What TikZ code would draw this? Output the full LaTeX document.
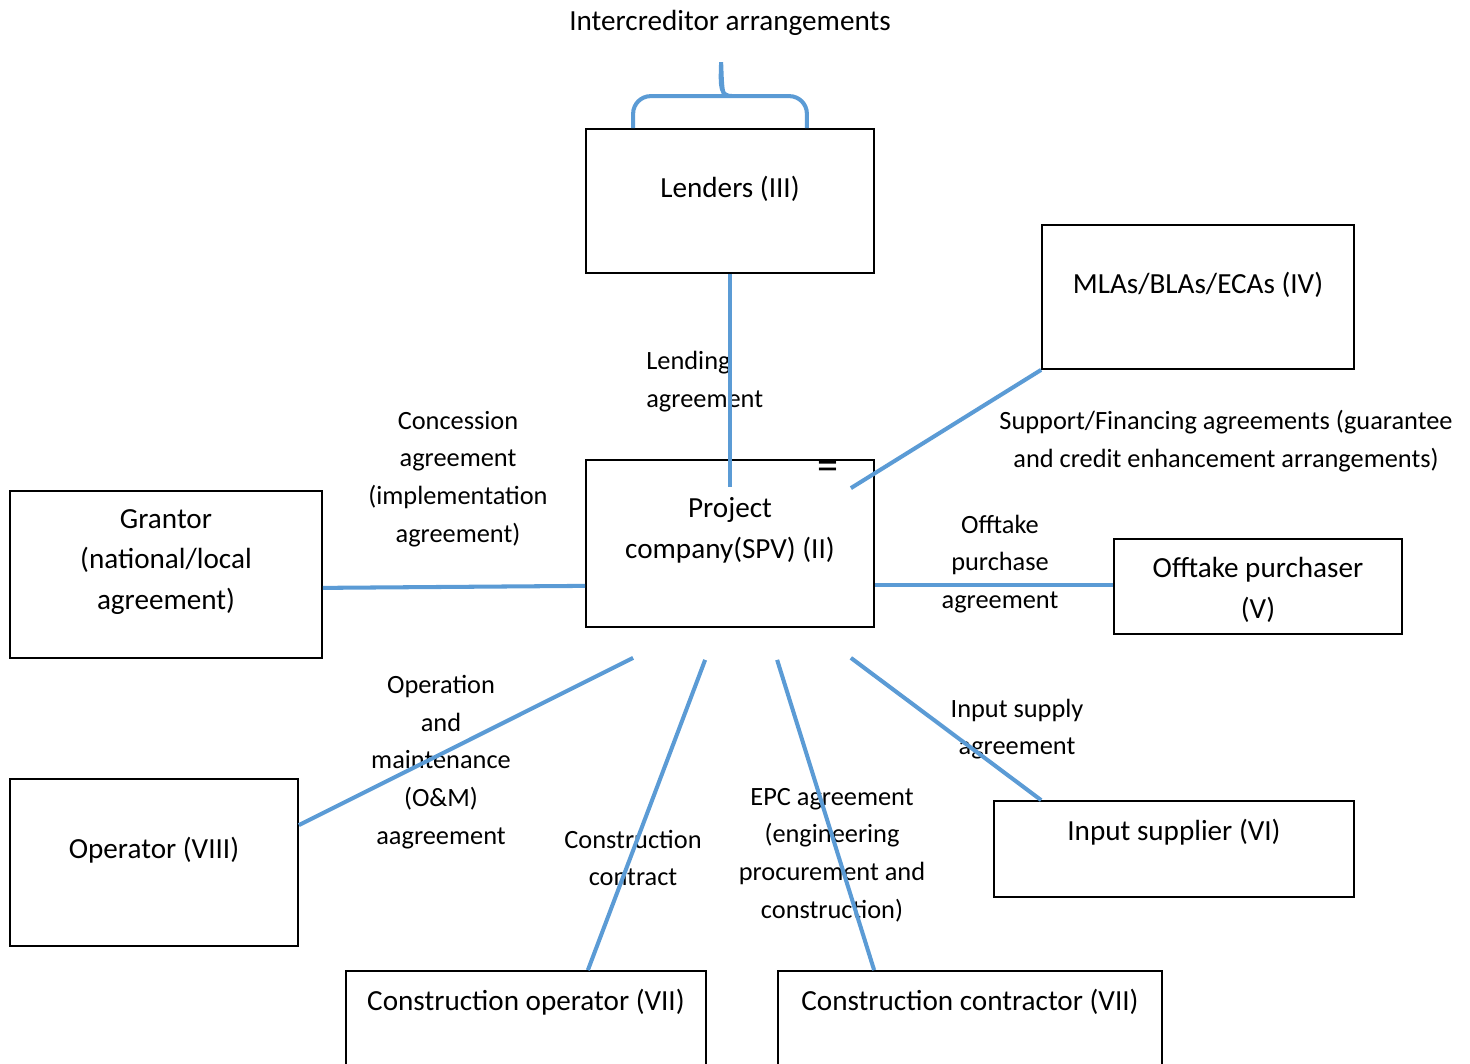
\documentclass[tikz,border=0pt]{standalone}
\usepackage{fontspec}
\setmainfont{Carlito}
\usetikzlibrary{positioning,calc,fit}

\definecolor{linkblue}{RGB}{91,155,213}

\begin{document}
\begin{tikzpicture}[
  x=0.02cm, y=-0.02cm,
  box/.style={draw, line width=1pt, inner sep=0pt},
  boxtext/.style={font=\fontsize{16.6}{23.2}\selectfont, align=center, inner sep=0pt},
  note/.style={font=\fontsize{15}{21.5}\selectfont, align=center, inner sep=0pt},
  link/.style={draw=linkblue, line width=2.3pt}
]
\clip (0,0) rectangle (1470,1064);

% --- Parties ---
\node[box, fit={(586,129) (874,273)}] (lenders) {};
\node[box, fit={(1042,225) (1354,369)}] (mla) {};
\node[box, fit={(586,460) (874,627)}] (spv) {};
\node[box, fit={(10,491) (322,658)}] (grantor) {};
\node[box, fit={(1114,539) (1402,634)}] (offtake) {};
\node[box, fit={(10,779) (298,946)}] (operator) {};
\node[box, fit={(994,801) (1354,897)}] (supplier) {};
\node[box, fit={(346,971) (706,1100)}] (conop) {};
\node[box, fit={(778,971) (1162,1100)}] (contractor) {};

\node[boxtext] (lenders-t) at (730,189) {Lenders (III)};
\node[boxtext] (mla-t) at (1198,285) {MLAs/BLAs/ECAs (IV)};
\node[boxtext] (spv-t) at (730,530) {Project\\company(SPV) (II)};
\node[boxtext] (grantor-t) at (166,562) {Grantor\\(national/local\\agreement)};
\node[boxtext] (offtake-t) at (1258,590) {Offtake purchaser\\(V)};
\node[boxtext] (operator-t) at (154,850) {Operator (VIII)};
\node[boxtext] (supplier-t) at (1174,832) {Input supplier (VI)};
\node[boxtext] (conop-t) at (526,1002) {Construction operator (VII)};
\node[boxtext] (contractor-t) at (970,1002) {Construction contractor (VII)};

% --- Agreements ---
\node[boxtext] (intercred) at (730,23) {Intercreditor arrangements};
\node[note, align=left, anchor=west] (lending) at (646,382) {Lending\\agreement};
\node[note] (concession) at (458,479) {Concession\\agreement\\(implementation\\agreement)};
\node[note] (support) at (1226,441) {Support/Financing agreements (guarantee\\and credit enhancement arrangements)};
\node[note] (offtake-l) at (1000,564) {Offtake\\purchase\\agreement};
\node[note] (om) at (441,762) {Operation\\and\\maintenance\\(O\&M)\\aagreement};
\node[note] (conc) at (633,858) {Construction\\contract};
\node[note] (epc) at (832,855) {EPC agreement\\(engineering\\procurement and\\construction)};
\node[note] (input) at (1017,729) {Input supply\\agreement};
\node[font=\fontsize{24}{26}\selectfont, inner sep=0pt] (eq) at (828,470) {=};

% --- Connectors ---
\draw[link] (lenders.south) -- ($(spv.north)+(0,28)$);
\draw[link] (mla.south west) -- ($(spv.north east)+(-24,29)$);
\draw[link] ($(grantor.south east)+(0,-71)$) -- ($(spv.south west)+(0,-42)$);
\draw[link] ($(spv.south east)+(0,-43)$) -- ($(offtake.south west)+(0,-50)$);
\draw[link] ($(operator.north east)+(0,47)$) -- ($(spv.south west)+(48,30)$);
\draw[link] ($(conop.north east)+(-119,0)$) -- ($(spv.south west)+(120,32)$);
\draw[link] ($(contractor.north west)+(97,0)$) -- ($(spv.south west)+(192,32)$);
\draw[link] ($(supplier.north west)+(48,0)$) -- ($(spv.south east)+(-24,30)$);

% brace over the lenders
\coordinate (tip) at ($(lenders.north west)+(136,-66)$);
\draw[link, rounded corners=10] ($(lenders.north west)+(48,0)$) -- ($(lenders.north west)+(48,-32)$)
  -- ($(tip)+(-6,34)$) [sharp corners] .. controls ($(tip)+(-1,34)$) and ($(tip)+(-1,26)$) .. (tip)
  .. controls ($(tip)+(1,26)$) and ($(tip)+(1,34)$) .. ($(tip)+(6,34)$) [rounded corners=10]
  -- ($(lenders.north east)+(-68,-32)$) -- ($(lenders.north east)+(-68,0)$);

\end{tikzpicture}
\end{document}
